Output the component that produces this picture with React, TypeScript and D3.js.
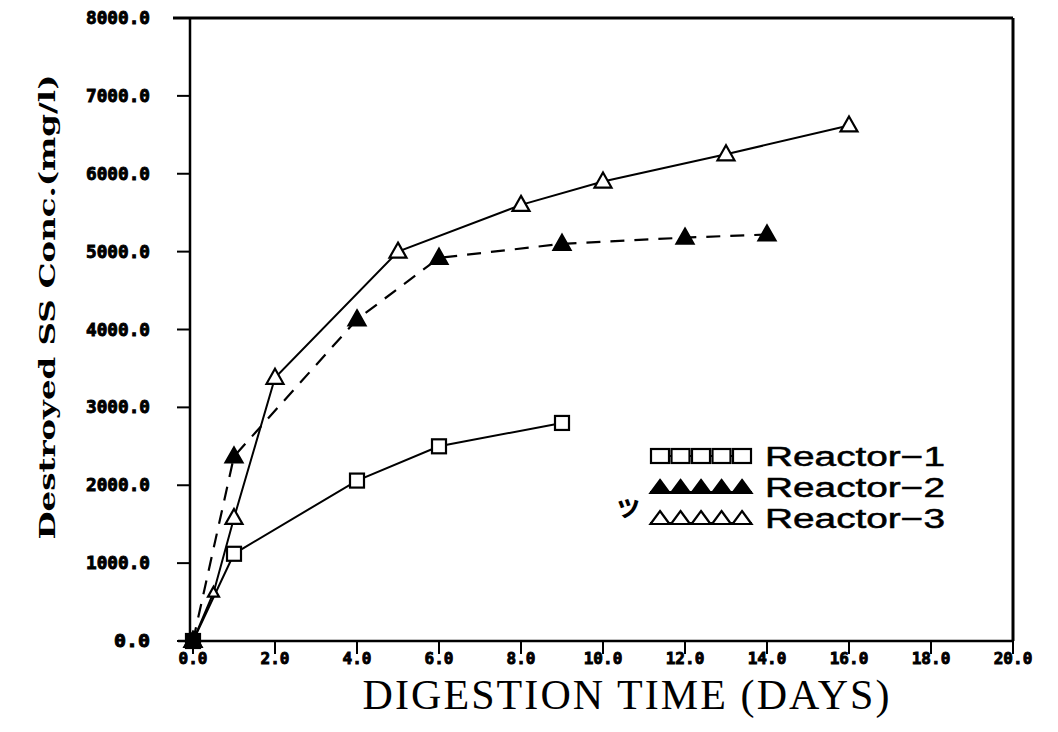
import React from "react";
import * as d3 from "d3";

const r1Days = [0, 1, 4, 6, 9];
const r1Vals = [0, 1120, 2060, 2500, 2800];
const r2Days = [0, 1, 4, 6, 9, 12, 14];
const r2Vals = [0, 2370, 4130, 4920, 5100, 5180, 5220];
const r3Days = [0, 0.5, 1, 2, 5, 8, 10, 13, 16];
const r3Vals = [0, 620, 1580, 3380, 5000, 5600, 5900, 6250, 6620];
const xTicks = [0, 2, 4, 6, 8, 10, 12, 14, 16, 18, 20];
const yTicks = [0, 1000, 2000, 3000, 4000, 5000, 6000, 7000, 8000];
const legendLabels = ["Reactor\u22121", "Reactor\u22122", "Reactor\u22123"];

const W = 1058;
const H = 732;

export default function App() {
  const x = d3.scaleLinear().domain([0, 20]).range([193, 1013]);
  const y = d3.scaleLinear().domain([0, 8000]).range([641, 18]);
  const line = d3.line<[number, number]>().x((d) => x(d[0])).y((d) => y(d[1]));
  const s1 = r1Days.map((d, i) => [d, r1Vals[i]] as [number, number]);
  const s2 = r2Days.map((d, i) => [d, r2Vals[i]] as [number, number]);
  const s3 = r3Days.map((d, i) => [d, r3Vals[i]] as [number, number]);

  const square = (cx: number, cy: number, k: string) => (
    <rect key={k} x={cx - 7} y={cy - 7} width={14} height={14} fill="white" stroke="black" strokeWidth={2.2} />
  );
  const tri = (cx: number, cy: number, filled: boolean, k: string) => (
    <path
      key={k}
      d={`M${cx},${cy - 9} L${cx + 8.5},${cy + 6} L${cx - 8.5},${cy + 6} Z`}
      fill={filled ? "black" : "white"}
      stroke="black"
      strokeWidth={2.2}
    />
  );

  const monoBold = { fontFamily: "'DejaVu Sans Mono', 'Liberation Mono', monospace", fontWeight: 700 };

  const legendX0 = 650;
  const legendRows = [456, 487, 518];

  return (
    <svg width={W} height={H} style={{ position: "absolute", left: 0, top: 0, background: "white" }}>
      <rect x={0} y={0} width={W} height={H} fill="white" />
      {/* frame */}
      <line x1={173} y1={18} x2={1013} y2={18} stroke="black" strokeWidth={3} />
      <line x1={1013} y1={18} x2={1013} y2={641} stroke="black" strokeWidth={3} />
      <line x1={190} y1={18} x2={190} y2={641} stroke="black" strokeWidth={2.5} />
      <line x1={178} y1={641} x2={1013} y2={641} stroke="black" strokeWidth={2.5} />

      {/* y ticks */}
      {yTicks.map((t) => (
        <g key={"yt" + t}>
          <line x1={177} x2={190} y1={y(t)} y2={y(t)} stroke="black" strokeWidth={2} />
          <text
            x={150}
            y={y(t)}
            dy="0.36em"
            textAnchor="end"
            fontSize={17}
            {...monoBold}
            stroke="black"
            strokeWidth={0.9}
            textLength={t === 0 ? 36 : 64}
            lengthAdjust="spacingAndGlyphs"
          >
            {t.toFixed(1)}
          </text>
        </g>
      ))}
      {/* x ticks */}
      {xTicks.map((t) => (
        <g key={"xt" + t}>
          <line x1={x(t)} x2={x(t)} y1={641} y2={654} stroke="black" strokeWidth={2} />
          <text
            x={x(t)}
            y={658}
            dy="0.36em"
            textAnchor="middle"
            fontSize={16}
            {...monoBold}
            stroke="black"
            strokeWidth={0.9}
          >
            {t.toFixed(1)}
          </text>
        </g>
      ))}

      {/* axis titles */}
      <text
        transform={`translate(47,${307}) rotate(-90)`}
        textAnchor="middle"
        dy="0.36em"
        fontSize={22}
        fontFamily="'DejaVu Serif', 'Liberation Serif', serif"
        fontWeight={700}
        textLength={465}
        lengthAdjust="spacingAndGlyphs"
      >
        Destroyed SS Conc.(mg/l)
      </text>
      <text
        x={626}
        y={709}
        textAnchor="middle"
        fontSize={42}
        fontFamily="'Liberation Serif', 'DejaVu Serif', serif"
        textLength={527}
        lengthAdjust="spacing"
      >
        DIGESTION TIME (DAYS)
      </text>

      {/* lines */}
      <path d={line(s1) || ""} fill="none" stroke="black" strokeWidth={2} />
      <path d={line(s3) || ""} fill="none" stroke="black" strokeWidth={2} />
      <path d={line(s2) || ""} fill="none" stroke="black" strokeWidth={2.2} strokeDasharray="14,10" />

      {/* markers */}
      {s2.map((p, i) => tri(x(p[0]), y(p[1]), true, "m2" + i))}
      {s1.map((p, i) => square(x(p[0]), y(p[1]), "m1" + i))}
      {s3.map((p, i) =>
        i === 1 ? (
          <path
            key={"m3" + i}
            d={`M${x(p[0])},${y(p[1]) - 6} L${x(p[0]) + 5.5},${y(p[1]) + 4} L${x(p[0]) - 5.5},${y(p[1]) + 4} Z`}
            fill="white"
            stroke="black"
            strokeWidth={2.2}
          />
        ) : (
          tri(x(p[0]), y(p[1]), false, "m3" + i)
        )
      )}
      <rect x={x(0) - 7} y={y(0) - 8} width={14} height={14} fill="black" />

      {/* legend */}
      {legendRows.map((ly, r) => (
        <g key={"lg" + r}>
          <line x1={legendX0} x2={legendX0 + 102} y1={ly + (r === 0 ? 0 : 5)} y2={ly + (r === 0 ? 0 : 5)} stroke="black" strokeWidth={2} />
          {[0, 1, 2, 3, 4].map((j) => {
            const cx = legendX0 + 10 + j * 20.5;
            if (r === 0)
              return <rect key={j} x={cx - 9} y={ly - 7} width={18} height={14} fill="white" stroke="black" strokeWidth={2.2} />;
            return (
              <path
                key={j}
                d={`M${cx},${ly - 7} L${cx + 9.5},${ly + 6} L${cx - 9.5},${ly + 6} Z`}
                fill={r === 1 ? "black" : "white"}
                stroke="black"
                strokeWidth={2.2}
              />
            );
          })}
          <text
            x={765}
            y={ly}
            dy="0.36em"
            fontSize={27}
            fontFamily="'Liberation Sans', Arial, sans-serif"
            stroke="black"
            strokeWidth={0.5}
            textLength={180}
            lengthAdjust="spacingAndGlyphs"
          >
            {legendLabels[r]}
          </text>
        </g>
      ))}
      <text x={614} y={516} fontSize={28} fontFamily="'Noto Sans CJK JP', sans-serif" fontWeight={700}>
        ッ
      </text>
    </svg>
  );
}
